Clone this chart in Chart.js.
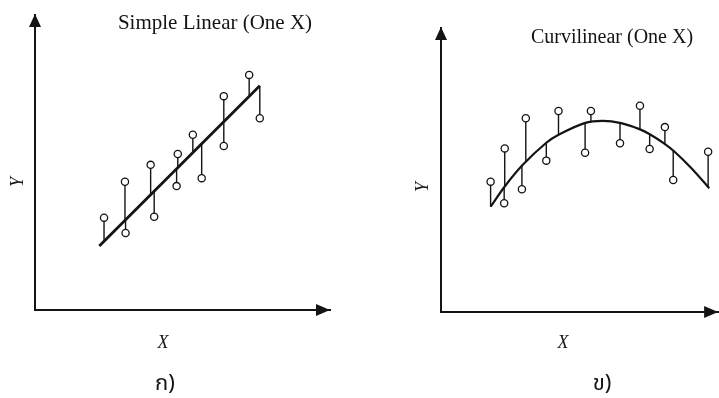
<!DOCTYPE html>
<html><head><meta charset="utf-8">
<script src="https://cdn.jsdelivr.net/npm/chart.js@4.4.1/dist/chart.umd.min.js"></script>
<style>
html,body{margin:0;padding:0;background:#fff;}
#wrap{position:relative;width:719px;height:398px;overflow:hidden;background:#fff;}
#c1{position:absolute;left:0;top:0;}
#c2{position:absolute;left:360px;top:0;}
</style></head><body>
<div id="wrap">
<canvas id="c1" width="360" height="398"></canvas>
<canvas id="c2" width="363" height="398"></canvas>
</div>
<script>
// ---- text ----
const linearTitle = 'Simple Linear (One X)';
const curveTitle = 'Curvilinear (One X)';
const xLabel = 'X';
const yLabel = 'Y';
const panelLabels = ['ก)', 'ข)'];

// ---- panel ก : simple linear ----
const linX   = [2.34, 3.05, 3.07, 3.92, 4.04, 4.84, 4.80, 5.35, 5.65, 6.40, 6.40, 7.26, 7.62];
const linY   = [3.13, 4.35, 2.61, 4.92, 3.16, 5.29, 4.20, 5.94, 4.47, 7.25, 5.56, 7.97, 6.50];
const linFit = [2.33, 3.04, 3.06, 3.91, 4.03, 4.83, 4.79, 5.34, 5.64, 6.39, 6.39, 7.25, 7.60];
const linLineX = [2.18, 7.62];
const linLineY = [2.17, 7.60];

// ---- panel ข : curvilinear ----
const curX   = [1.79, 2.30, 2.28, 3.06, 2.92, 4.24, 3.80, 5.41, 5.20, 6.46, 7.18, 7.53, 8.08, 8.38, 9.64];
const curY   = [4.59, 5.76, 3.83, 6.82, 4.32, 7.08, 5.33, 7.08, 5.61, 5.94, 7.26, 5.74, 6.51, 4.65, 5.64];
const curFit = [3.71, 4.42, 4.38, 5.30, 5.17, 6.26, 5.96, 6.69, 6.65, 6.66, 6.43, 6.26, 5.91, 5.68, 4.40];
const curveLineX = [1.79, 2.30, 2.96, 3.80, 4.26, 5.18, 5.84, 6.50, 7.16, 7.52, 8.06, 8.42, 9.03, 9.68];
const curveLineY = [3.71, 4.42, 5.19, 5.96, 6.25, 6.65, 6.73, 6.65, 6.44, 6.27, 5.93, 5.65, 5.07, 4.36];

const INK = '#141414';
const serif = '"Liberation Serif", "Times New Roman", serif';
const thai = '"Noto Sans Thai", "Noto Serif Thai", Loma, Garuda, "TH Sarabun New", "DejaVu Sans", sans-serif';

function pts(xs, ys) { return xs.map((x, i) => ({x: x, y: ys[i]})); }
function residuals(xs, ys, fits) {
  const out = [];
  xs.forEach((x, i) => { out.push({x: x, y: ys[i]}, {x: x, y: fits[i]}, {x: x, y: null}); });
  return out;
}

const decor = {
  id: 'decor',
  afterDraw(chart, args, o) {
    const {ctx, chartArea: a} = chart;
    ctx.save();
    ctx.fillStyle = INK;
    ctx.beginPath();
    ctx.moveTo(a.left, a.top - 1);
    ctx.lineTo(a.left - 6, a.top + 12);
    ctx.lineTo(a.left + 6, a.top + 12);
    ctx.closePath(); ctx.fill();
    ctx.beginPath();
    ctx.moveTo(a.right, a.bottom);
    ctx.lineTo(a.right - 14, a.bottom - 6);
    ctx.lineTo(a.right - 14, a.bottom + 6);
    ctx.closePath(); ctx.fill();
    ctx.textAlign = 'center';
    ctx.textBaseline = 'middle';
    for (const t of o.texts) {
      ctx.save();
      ctx.font = t.font;
      ctx.translate(t.x, t.y);
      if (t.rot) ctx.rotate(t.rot);
      ctx.fillText(t.text, 0, 0);
      ctx.restore();
    }
    ctx.restore();
  }
};

function axis() {
  return {
    type: 'linear', min: 0, max: 10, display: true,
    ticks: {display: false}, grid: {display: false, drawTicks: false},
    border: {display: true, color: INK, width: 2}
  };
}

function makeChart(id, ptX, ptY, fit, lineX, lineY, lineW, tension, pad, texts) {
  return new Chart(document.getElementById(id), {
    type: 'scatter',
    data: {
      datasets: [
        {data: pts(ptX, ptY), pointRadius: 3.6, pointHoverRadius: 3.6, pointBackgroundColor: '#fff',
         pointBorderColor: INK, pointBorderWidth: 1.3, showLine: false},
        {data: pts(lineX, lineY), showLine: true, borderColor: INK, borderWidth: lineW,
         pointRadius: 0, tension: tension, cubicInterpolationMode: 'default', fill: false},
        {data: residuals(ptX, ptY, fit), showLine: true, spanGaps: false, borderColor: INK,
         borderWidth: 1.4, pointRadius: 0, fill: false}
      ]
    },
    options: {
      responsive: false, animation: false, events: [],
      layout: {padding: pad},
      plugins: {legend: {display: false}, tooltip: {enabled: false}, decor: {texts: texts}},
      scales: {x: axis(), y: axis()}
    },
    plugins: [decor]
  });
}

makeChart('c1', linX, linY, linFit, linLineX, linLineY, 2.8, 0,
  {left: 35, right: 30, top: 15, bottom: 88},
  [
    {text: linearTitle, x: 215, y: 23, font: '21px ' + serif},
    {text: xLabel, x: 163, y: 343, font: 'italic 18px ' + serif},
    {text: yLabel, x: 18, y: 182, rot: -Math.PI / 2, font: 'italic 18px ' + serif},
    {text: panelLabels[0], x: 165, y: 386, font: '22px ' + thai}
  ]);

makeChart('c2', curX, curY, curFit, curveLineX, curveLineY, 2.2, 0.3,
  {left: 81, right: 0, top: 28, bottom: 86},
  [
    {text: curveTitle, x: 252, y: 38, font: '20px ' + serif},
    {text: xLabel, x: 203, y: 343, font: 'italic 18px ' + serif},
    {text: yLabel, x: 63, y: 187, rot: -Math.PI / 2, font: 'italic 18px ' + serif},
    {text: panelLabels[1], x: 242, y: 386, font: '22px ' + thai}
  ]);
</script>
</body></html>
